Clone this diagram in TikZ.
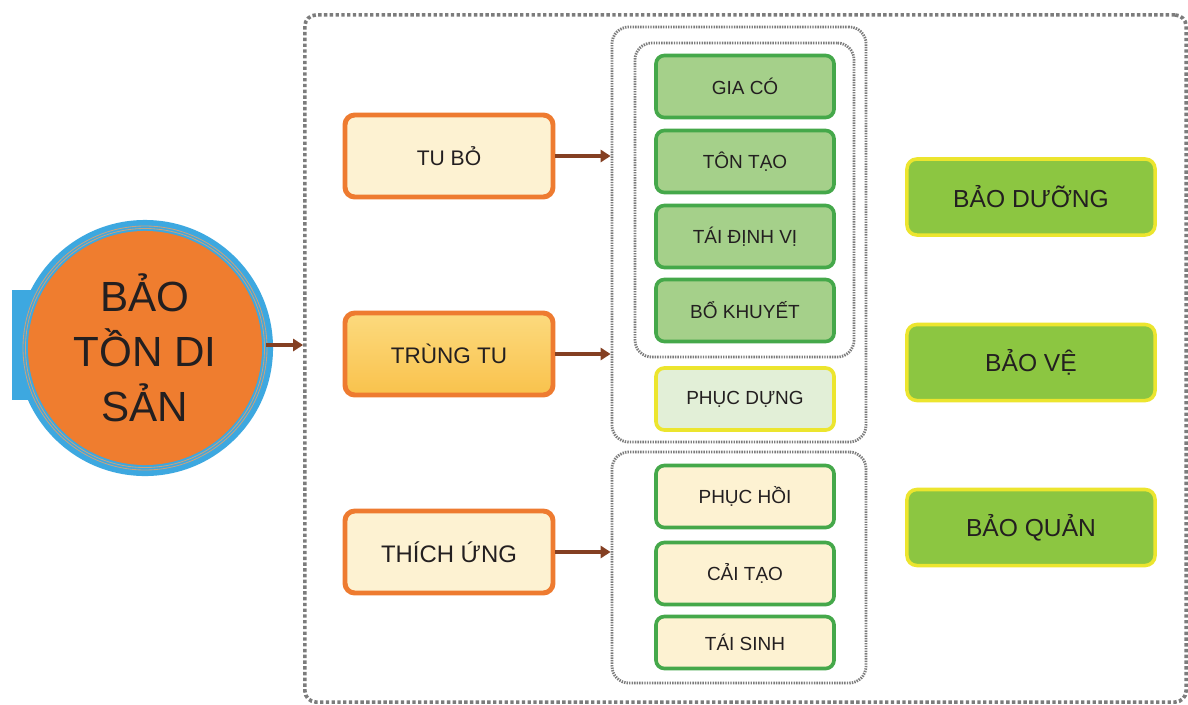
\documentclass[tikz,border=0pt]{standalone}
\usepackage{fontspec}
\setmainfont{Liberation Sans}
\usetikzlibrary{arrows.meta,calc}
\definecolor{orangeB}{HTML}{EE7B30}
\definecolor{creamF}{HTML}{FDF2D2}
\definecolor{greenB}{HTML}{45A84A}
\definecolor{greenF}{HTML}{A5D08A}
\definecolor{mintF}{HTML}{E2EFD7}
\definecolor{yellowB}{HTML}{ECE52E}
\definecolor{greenR}{HTML}{8CC641}
\definecolor{greenRl}{HTML}{9CCF5C}
\definecolor{dotgray}{HTML}{7C7C7C}
\definecolor{txt}{HTML}{231F20}
\definecolor{blueC}{HTML}{3DA8E0}
\definecolor{orangeC}{HTML}{EF7D2F}
\definecolor{ringC}{HTML}{C9A27E}
\definecolor{arrC}{HTML}{843F22}
\definecolor{ttTop}{HTML}{FCDA7E}
\definecolor{ttBot}{HTML}{F9C24C}
\begin{document}
\begin{tikzpicture}[x=0.025cm,y=-0.025cm,
  lbox/.style={rounded corners=7pt, draw=orangeB, line width=3.5pt, fill=creamF,
    minimum width=5.2cm, minimum height=2.05cm, text=txt, inner sep=0pt},
  gbox/.style={rounded corners=6pt, draw=greenB, line width=2.6pt, fill=greenF,
    minimum width=4.45cm, minimum height=1.55cm, text=txt, inner sep=0pt,
    font=\fontsize{13.5}{16}\selectfont},
  rbox/.style={rounded corners=7pt, draw=yellowB, line width=2.5pt, fill=greenR,
    minimum width=6.2cm, minimum height=1.9cm, text=txt, inner sep=0pt,
    font=\fontsize{17.5}{20}\selectfont},
  grpbox/.style={draw=dotgray, line width=2pt, dash pattern=on 1pt off 0.8pt,
    rounded corners=12pt, inner sep=0pt},
  outerbox/.style={draw=dotgray, line width=2.6pt, dash pattern=on 2.4pt off 1.7pt,
    rounded corners=8pt, inner sep=0pt},
  arr/.style={draw=arrC, line width=2.6pt, -{Triangle[length=7pt,width=8.5pt]}}
]
\useasboundingbox (0,0) rectangle (1188,704);
\fill[white] (0,0) rectangle (1188,704);

% outer dotted frame
\node[outerbox, minimum width=22.025cm, minimum height=17.175cm] (outer) at (745.5,358.5) {};

% central circle
\fill[blueC] (12,290) rectangle (60,400);
\node[circle, fill=blueC, minimum size=6.4cm, inner sep=0pt] (circB) at (145,348) {};
\draw[ringC, line width=0.6pt] (circB.center) circle[radius=122];
\draw[ringC, line width=0.6pt] (circB.center) circle[radius=119.5];
\node[circle, fill=orangeC, minimum size=5.85cm, inner sep=0pt, align=center,
  text=txt, font=\fontsize{30}{39}\selectfont] (circ) at (145,348) {BẢO\\TỒN DI\\SẢN};

% left boxes
\node[lbox, font=\fontsize{15}{18}\selectfont] (tubo) at (449,156) {TU BỎ};
\node[lbox, top color=ttTop, bottom color=ttBot,
  font=\fontsize{16}{19}\selectfont] (trungtu) at (449,354) {TRÙNG TU};
\node[lbox, font=\fontsize{17}{20}\selectfont] (thichung) at (449,552) {THÍCH ỨNG};

% group frames
\node[grpbox, minimum width=6.35cm, minimum height=10.375cm] (grp1) at (739,234.5) {};
\node[grpbox, minimum width=5.475cm, minimum height=7.85cm] (grp1in) at (744.5,200) {};
\node[grpbox, minimum width=6.35cm, minimum height=5.775cm] (grp2) at (739,567.5) {};

% middle boxes
\node[gbox] (giaco) at (745,86.5) {GIA CÓ};
\node[gbox] (tontao) at (745,161.5) {TÔN TẠO};
\node[gbox] (taidinhvi) at (745,236.5) {TÁI ĐỊNH VỊ};
\node[gbox] (bokhuyet) at (745,310.5) {BỔ KHUYẾT};
\node[gbox, draw=yellowB, fill=mintF] (phucdung) at (745,399) {PHỤC DỰNG};
\node[gbox, fill=creamF] (phuchoi) at (745,496.5) {PHỤC HỒI};
\node[gbox, fill=creamF] (caitao) at (745,573.5) {CẢI TẠO};
\node[gbox, fill=creamF, minimum height=1.3cm] (taisinh) at (745,642.5) {TÁI SINH};

% right boxes
\node[rbox] (baoduong) at (1031,197) {BẢO DƯỠNG};
\node[rbox] (baove) at (1031,362.5) {BẢO VỆ};
\node[rbox] (baoquan) at (1031,527.5) {BẢO QUẢN};

% arrows
\draw[arr] (circ.east) ++(4,-3) coordinate (cs) -- (cs -| outer.west);
\draw[arr] (tubo.east) -- (tubo.east -| grp1.west);
\draw[arr] (trungtu.east) -- (trungtu.east -| grp1.west);
\draw[arr] (thichung.east) -- (thichung.east -| grp2.west);
\end{tikzpicture}
\end{document}
